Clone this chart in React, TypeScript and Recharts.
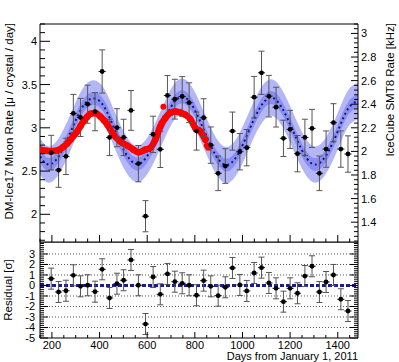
import {
  ComposedChart,
  Scatter,
  Line,
  Area,
  XAxis,
  YAxis,
  ErrorBar,
  ReferenceLine,
} from "recharts";

const FONT = '"Liberation Sans", Arial, Helvetica, sans-serif';

// DM-Ice17 monthly bins (days from Jan 1, 2011)
const binDays = [
  197, 228, 259, 290, 320, 350, 381, 411, 442, 473, 501, 532, 563, 593, 625, 655, 685, 716, 747, 776, 807,
  837, 867, 898, 928, 958, 989, 1018, 1049, 1080, 1111, 1141, 1172, 1200, 1231, 1262, 1292, 1323, 1351, 1382, 1413, 1443,
];
const muonRate = [
  2.713, 2.512, 2.67, 3.166, 3.12, 3.273, 3.186, 3.651, 2.889, 3.001, 2.889, 3.201, 2.586, 1.978, 2.924, 2.751, 3.374,
  3.331, 3.362, 3.29, 2.962, 3.116, 2.8, 2.474, 2.558, 2.962, 2.724, 2.77, 3.354, 3.636, 3.366, 3.239, 2.878, 2.982,
  2.701, 2.889, 2.993, 2.474, 2.754, 3.059, 2.754, 2.697,
];
const muonErr = [
  0.2, 0.2, 0.21, 0.22, 0.22, 0.22, 0.22, 0.25, 0.21, 0.22, 0.21, 0.23, 0.21, 0.18, 0.21, 0.21, 0.23, 0.23, 0.23, 0.23,
  0.22, 0.22, 0.21, 0.2, 0.2, 0.22, 0.21, 0.21, 0.24, 0.25, 0.24, 0.23, 0.21, 0.22, 0.21, 0.21, 0.22, 0.2, 0.21, 0.22,
  0.21, 0.21,
];
const residuals = [
  0.65, -0.62, -0.5, 0.97, -0.08, 0.02, -0.59, 1.54, -1.19, 0.17, 0.5, 2.43, 0.02, -3.67, 0.81, -0.84, 1.1, 0.36, 0.21,
  0.02, -0.93, 0.46, -0.08, -0.97, -0.17, 1.67, 0.05, -0.52, 1.19, 1.7, 0.24, -0.27, -1.54, -0.27, -0.74, 0.9, 1.83,
  -0.62, 0.33, 1.0, -1.31, -2.43,
];
const binHalfWidth = 15;
const residualErr = 1;

// sinusoidal fit
const fitDays = [
  150, 187, 233, 280, 326, 373, 420, 466, 513, 560, 606, 653, 700, 746, 793, 840, 886, 933, 980, 1026, 1073, 1120,
  1166, 1213, 1260, 1306, 1353, 1400, 1443, 1485,
];
const fitRate = [
  2.67, 2.575, 2.69, 2.96, 3.23, 3.34, 3.24, 2.96, 2.69, 2.58, 2.7, 2.96, 3.24, 3.36, 3.24, 2.96, 2.69, 2.57, 2.69,
  2.96, 3.23, 3.35, 3.23, 2.96, 2.69, 2.575, 2.69, 2.96, 3.22, 3.31,
];
const innerBand = 0.075;
const outerBand = 0.21;

// IceCube SMT8 rate [kHz]
const iceDays = [
  152, 175, 194, 223, 248, 263, 278, 292, 307, 320, 332, 347, 361, 382, 403, 418, 433, 458, 487, 517, 542, 563, 592,
  613, 634, 655, 676, 697, 718, 739, 760, 781, 802, 823, 844,
];
const iceRate = [
  2.015, 2.005, 2.001, 2.009, 2.038, 2.065, 2.1, 2.135, 2.17, 2.215, 2.254, 2.29, 2.319, 2.325, 2.296, 2.265, 2.226,
  2.142, 2.085, 2.049, 2.015, 1.992, 2.015, 2.03, 2.1, 2.212, 2.283, 2.325, 2.338, 2.33, 2.311, 2.274, 2.198, 2.17, 2.1,
];
const iceOutDays = [646, 652, 660, 668, 850, 856];
const iceOutRate = [2.16, 2.2, 2.24, 2.378, 2.05, 2.03];

const xMajor = [200, 400, 600, 800, 1000, 1200, 1400];
const leftMajor = [2, 2.5, 3, 3.5, 4];
const rightMajor = [1.4, 1.6, 1.8, 2, 2.2, 2.4, 2.6, 2.8, 3];
const resMajor = [-5, -4, -3, -2, -1, 0, 1, 2, 3];
const resGrid = [-4, -3, -2, -1, 1, 2, 3];

function steps(from: number, to: number, step: number) {
  const out: number[] = [];
  const n = Math.round((to - from) / step);
  for (let i = 0; i <= n; i++) out.push(+(from + i * step).toFixed(4));
  return out;
}

const xTicks = steps(150, 1450, 50);
const leftTicks = steps(1.7, 4.2, 0.1);
const rightTicks = steps(1.24, 3.08, 0.04);
const resTicks = steps(-5, 4, 0.2);

const isIn = (list: number[], v: number) => list.some((m) => Math.abs(m - v) < 1e-6);

const fitTable = fitDays.map((day, i) => ({
  day,
  fit: fitRate[i],
  outer: [fitRate[i] - outerBand, fitRate[i] + outerBand],
  inner: [fitRate[i] - innerBand, fitRate[i] + innerBand],
}));
const muonTable = binDays.map((day, i) => ({ day, rate: muonRate[i], err: muonErr[i], xerr: binHalfWidth }));
const resTable = binDays.map((day, i) => ({ day, res: residuals[i], err: residualErr, xerr: binHalfWidth }));
const iceTable = iceDays.map((day, i) => ({ day, rate: iceRate[i] }));
const iceOutTable = iceOutDays.map((day, i) => ({ day, rate: iceOutRate[i] }));

const dot = (r: number, fill: string) => (p: any) => <circle cx={p.cx} cy={p.cy} r={r} fill={fill} />;

function YTick(props: any) {
  const { x, y, payload, majors, side, big, small, labels, dx } = props;
  const v = payload.value;
  const major = isIn(majors, v);
  const len = major ? big : small;
  const dir = side === "left" ? 1 : -1;
  return (
    <g>
      <line x1={x} x2={x + dir * len} y1={y} y2={y} stroke="#000" />
      {major && labels && (
        <text
          x={x - dir * dx}
          y={y}
          dy="0.36em"
          textAnchor={side === "left" ? "end" : "start"}
          fontSize={11}
          fontFamily={FONT}
          fill="#000"
        >
          {String(v)}
        </text>
      )}
    </g>
  );
}

function XTick(props: any) {
  const { x, y, payload, big, small, labels } = props;
  const major = isIn(xMajor, payload.value);
  return (
    <g>
      <line x1={x} x2={x} y1={y} y2={y - (major ? big : small)} stroke="#000" />
      {major && labels && (
        <text x={x} y={y + 11} textAnchor="middle" fontSize={11} fontFamily={FONT} fill="#000">
          {String(payload.value)}
        </text>
      )}
    </g>
  );
}

const axisLine = { stroke: "#000", strokeWidth: 1 };

export default function App() {
  return (
    <div style={{ position: "absolute", left: 0, top: 0, width: 399, height: 362, background: "#fff" }}>
      <div style={{ position: "absolute", left: 0, top: 0 }}>
        <ComposedChart width={399} height={250} data={fitTable} margin={{ top: 24, right: 0, bottom: 0, left: 0 }}>
          <XAxis
            dataKey="day"
            type="number"
            domain={[150, 1485]}
            allowDataOverflow
            ticks={xTicks}
            interval={0}
            height={8}
            tickSize={0}
            tickMargin={0}
            tickLine={false}
            axisLine={axisLine}
            tick={(p: any) => <XTick {...p} big={7} small={3.5} labels={false} />}
          />
          <YAxis
            yAxisId="left"
            width={40}
            domain={[1.68, 4.2]}
            allowDataOverflow
            ticks={leftTicks}
            interval={0}
            tickSize={0}
            tickMargin={0}
            tickLine={false}
            axisLine={axisLine}
            tick={(p: any) => <YTick {...p} majors={leftMajor} side="left" big={10} small={5} labels dx={3} />}
          />
          <YAxis
            yAxisId="right"
            orientation="right"
            width={41}
            domain={[1.232, 3.08]}
            allowDataOverflow
            ticks={rightTicks}
            interval={0}
            tickSize={0}
            tickMargin={0}
            tickLine={false}
            axisLine={axisLine}
            tick={(p: any) => <YTick {...p} majors={rightMajor} side="right" big={7} small={4} labels dx={3} />}
          />
          <ReferenceLine yAxisId="left" y={4.2} stroke="#000" />
          <Area
            yAxisId="left"
            dataKey="outer"
            type="natural"
            fill="#b3b6f7"
            fillOpacity={1}
            stroke="none"
            isAnimationActive={false}
          />
          <Area
            yAxisId="left"
            dataKey="inner"
            type="natural"
            fill="#8a8ef0"
            fillOpacity={1}
            stroke="none"
            isAnimationActive={false}
          />
          <Line
            yAxisId="left"
            dataKey="fit"
            type="natural"
            stroke="#16167e"
            strokeWidth={2}
            strokeDasharray="2 3"
            dot={false}
            isAnimationActive={false}
          />
          <Line
            yAxisId="right"
            data={iceTable}
            dataKey="rate"
            type="monotone"
            stroke="#ff0000"
            strokeWidth={6.5}
            strokeLinecap="round"
            dot={false}
            isAnimationActive={false}
          />
          <Scatter yAxisId="right" data={iceTable} dataKey="rate" shape={dot(3.2, "#ff0000")} isAnimationActive={false} />
          <Scatter yAxisId="right" data={iceOutTable} dataKey="rate" shape={dot(3, "#ff0000")} isAnimationActive={false} />
          <Scatter yAxisId="left" data={muonTable} dataKey="rate" shape={dot(2.4, "#000")} isAnimationActive={false}>
            <ErrorBar dataKey="err" direction="y" width={3} stroke="#555" strokeWidth={1} />
            <ErrorBar dataKey="xerr" direction="x" width={0} stroke="#222" strokeWidth={1} />
          </Scatter>
        </ComposedChart>
      </div>
      <div style={{ position: "absolute", left: 0, top: 242 }}>
        <ComposedChart width={399} height={120} margin={{ top: 0, right: 0, bottom: 0, left: 0 }}>
          <XAxis
            dataKey="day"
            type="number"
            domain={[150, 1485]}
            allowDataOverflow
            ticks={xTicks}
            interval={0}
            height={24}
            tickSize={0}
            tickMargin={0}
            tickLine={false}
            axisLine={axisLine}
            tick={(p: any) => <XTick {...p} big={6} small={3} labels />}
          />
          <YAxis
            yAxisId="l"
            width={40}
            domain={[-5, 4.14]}
            allowDataOverflow
            ticks={resTicks}
            interval={0}
            tickSize={0}
            tickMargin={0}
            tickLine={false}
            axisLine={axisLine}
            tick={(p: any) => <YTick {...p} majors={resMajor} side="left" big={8} small={4} labels dx={5} />}
          />
          <YAxis
            yAxisId="r"
            orientation="right"
            width={41}
            domain={[-5, 4.14]}
            allowDataOverflow
            ticks={resTicks}
            interval={0}
            tickSize={0}
            tickMargin={0}
            tickLine={false}
            axisLine={axisLine}
            tick={(p: any) => <YTick {...p} majors={resMajor} side="right" big={8} small={4} labels={false} dx={3} />}
          />
          <ReferenceLine yAxisId="l" y={4.14} stroke="#000" />
          {resGrid.map((g) => (
            <ReferenceLine key={g} yAxisId="l" y={g} stroke="#555" strokeDasharray="1 2" />
          ))}
          <ReferenceLine yAxisId="l" y={0} stroke="#1c1c8c" strokeWidth={3} strokeDasharray="4 2" />
          <Scatter yAxisId="l" data={resTable} dataKey="res" shape={dot(2.4, "#000")} isAnimationActive={false}>
            <ErrorBar dataKey="err" direction="y" width={3} stroke="#555" strokeWidth={1} />
            <ErrorBar dataKey="xerr" direction="x" width={0} stroke="#222" strokeWidth={1} />
          </Scatter>
        </ComposedChart>
      </div>
      <svg
        width={399}
        height={362}
        style={{ position: "absolute", left: 0, top: 0, pointerEvents: "none" }}
        fontFamily={FONT}
        fill="#000"
      >
        <text transform="translate(13,23) rotate(-90)" textAnchor="end" fontSize={11.5}>
          DM-Ice17 Muon Rate [μ / crystal / day]
        </text>
        <text transform="translate(394,23) rotate(-90)" textAnchor="end" fontSize={11.5}>
          IceCube SMT8 Rate [kHz]
        </text>
        <text transform="translate(12,290) rotate(-90)" textAnchor="middle" fontSize={11.5}>
          Residual [σ]
        </text>
        <text x={358} y={359.5} textAnchor="end" fontSize={11}>
          Days from January 1, 2011
        </text>
      </svg>
    </div>
  );
}
